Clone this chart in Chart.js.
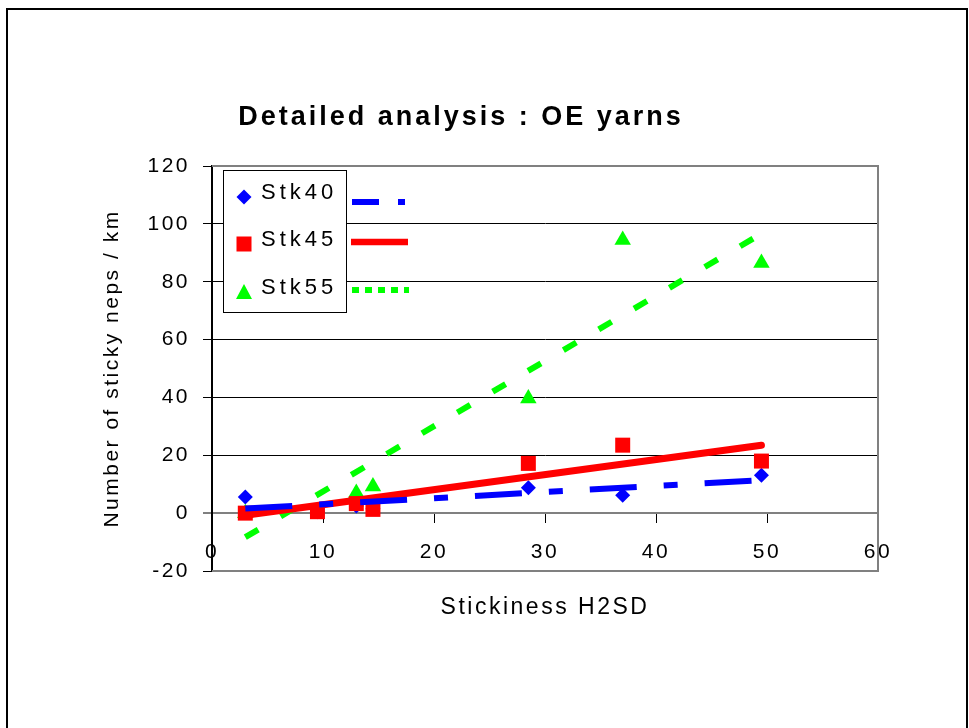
<!DOCTYPE html>
<html><head><meta charset="utf-8">
<script src="https://cdn.jsdelivr.net/npm/chart.js@4.4.1/dist/chart.umd.min.js"></script>
<style>
html,body{margin:0;padding:0;background:#fff;overflow:hidden;width:969px;height:728px;}
#frame{position:absolute;left:6px;top:8px;width:958px;height:800px;border:2px solid #000;}
canvas{position:absolute;left:0;top:0;}
</style></head><body>
<div id="frame"></div>
<canvas id="c" width="969" height="728"></canvas>
<script>
// ---- data ----
const titleText = 'Detailed analysis : OE yarns';
const xTitle = 'Stickiness H2SD';
const yTitle = 'Number of sticky neps / km';
const seriesNames = ['Stk40', 'Stk45', 'Stk55'];
const stickiness = [3, 9.5, 13, 14.5, 28.5, 37, 49.5];
const stk40 = [5.6, 0.5, 2.5, 1.5, 8.8, 6.2, 13.1];
const stk45 = [0, 0.5, 3.3, 1.3, 17.2, 23.5, 18];
const stk55 = [0, null, 7, 9.2, 39.6, 94.4, 86.5];
const trendX = [3, 49.5];
const trend40 = [1.6, 11.4];
const trend45 = [-0.7, 23.5];
const trend55 = [-8.3, 96.6];
const xRange = [0, 60, 10];
const yRange = [-20, 120, 20];

const BLUE = '#0000FF', RED = '#FF0000', GREEN = '#00FF00';
const FONT = '"Liberation Sans", Arial, sans-serif';

const pts = (xs, ys) => xs.map((x, i) => ({x: x, y: ys[i]})).filter(p => p.y !== null);

const SP = '2.5px';
const spacingPlugin = {
  id: 'spacing',
  beforeUpdate(chart) { chart.ctx.letterSpacing = SP; },
  beforeLayout(chart) { chart.ctx.letterSpacing = SP; },
  beforeDraw(chart) { chart.ctx.letterSpacing = SP; }
};

const decoPlugin = {
  id: 'deco',
  beforeDatasetsDraw(chart) {
    const {ctx, chartArea: a} = chart;
    ctx.save();
    ctx.strokeStyle = '#808080';
    ctx.lineWidth = 2;
    ctx.beginPath();
    ctx.moveTo(a.left, a.top); ctx.lineTo(a.right, a.top);
    ctx.lineTo(a.right, a.bottom); ctx.lineTo(a.left, a.bottom);
    ctx.stroke();
    ctx.restore();
  },
  afterDraw(chart) {
    const ctx = chart.ctx;
    ctx.save();
    // title
    ctx.letterSpacing = '3px';
    ctx.fillStyle = '#000';
    ctx.font = 'bold 27px ' + FONT;
    ctx.textAlign = 'center';
    ctx.textBaseline = 'middle';
    ctx.fillText(titleText, 461, 118);
    // legend box
    ctx.fillStyle = '#fff';
    ctx.fillRect(223, 170, 123, 142);
    ctx.strokeStyle = '#000';
    ctx.lineWidth = 1;
    ctx.strokeRect(223.5, 170.5, 123, 142);
    const rows = [193, 240, 288];
    const lineY = [202, 242, 290];
    ctx.font = '22px ' + FONT;
    ctx.letterSpacing = '4px';
    ctx.textAlign = 'left';
    ctx.fillStyle = '#000';
    seriesNames.forEach((n, i) => ctx.fillText(n, 261, rows[i]));
    // markers
    ctx.fillStyle = BLUE;
    ctx.beginPath();
    ctx.moveTo(244, 189.5); ctx.lineTo(251.5, 197); ctx.lineTo(244, 204.5); ctx.lineTo(236.5, 197); ctx.closePath(); ctx.fill();
    ctx.fillStyle = RED;
    ctx.fillRect(236.5, 236.5, 15, 15);
    ctx.fillStyle = GREEN;
    ctx.beginPath();
    ctx.moveTo(244, 284); ctx.lineTo(252, 299); ctx.lineTo(236, 299); ctx.closePath(); ctx.fill();
    // line samples
    ctx.lineWidth = 6;
    ctx.strokeStyle = BLUE; ctx.setLineDash([27, 19, 7, 19]);
    ctx.beginPath(); ctx.moveTo(352, lineY[0]); ctx.lineTo(406, lineY[0]); ctx.stroke();
    ctx.strokeStyle = RED; ctx.setLineDash([]); ctx.lineWidth = 6.5;
    ctx.beginPath(); ctx.moveTo(351, lineY[1]); ctx.lineTo(408, lineY[1]); ctx.stroke();
    ctx.strokeStyle = GREEN; ctx.setLineDash([7, 6]); ctx.lineWidth = 6;
    ctx.beginPath(); ctx.moveTo(352, lineY[2]); ctx.lineTo(409, lineY[2]); ctx.stroke();
    ctx.restore();
  }
};

Chart.defaults.color = '#000';
Chart.defaults.font.family = FONT;

new Chart(document.getElementById('c'), {
  type: 'scatter',
  data: {
    datasets: [
      {label: 'trend40', data: pts(trendX, trend40), showLine: true, borderColor: BLUE, borderWidth: 6,
       borderDash: [47, 27, 14, 27], pointRadius: 0, order: 1, fill: false},
      {label: 'trend45', data: pts(trendX, trend45), showLine: true, borderColor: RED, borderWidth: 7,
       borderCapStyle: 'round', pointRadius: 0, order: 2, fill: false},
      {label: 'trend55', data: pts(trendX, trend55), showLine: true, borderColor: GREEN, borderWidth: 6,
       borderDash: [15, 26], pointRadius: 0, order: 3, fill: false},
      {label: seriesNames[1], data: pts(stickiness, stk45), pointStyle: 'rect', pointRadius: 10.6,
       backgroundColor: RED, borderColor: RED, borderWidth: 0, order: 4},
      {label: seriesNames[2], data: pts(stickiness, stk55), pointStyle: 'triangle', pointRadius: 9.5,
       backgroundColor: GREEN, borderColor: GREEN, borderWidth: 0, order: 5},
      {label: seriesNames[0], data: pts(stickiness, stk40), pointStyle: 'rectRot', pointRadius: 7.5,
       backgroundColor: BLUE, borderColor: BLUE, borderWidth: 0, order: 6}
    ]
  },
  options: {
    responsive: false,
    devicePixelRatio: 1,
    animation: false,
    layout: {padding: {top: 166, left: 0, right: 91, bottom: 157}},
    plugins: {legend: {display: false}, tooltip: {enabled: false}, title: {display: false}},
    scales: {
      x: {
        type: 'linear',
        position: {y: 0},
        min: xRange[0], max: xRange[1],
        afterFit(s) { s.height = 157; },
        ticks: {stepSize: xRange[2], padding: 17, maxRotation: 0, font: {size: 21}, color: '#000'},
        grid: {drawOnChartArea: false, drawTicks: true, tickLength: 9, tickColor: '#000', tickWidth: 1},
        border: {color: '#808080', width: 2},
        title: {display: true, text: xTitle, font: {size: 23}, color: '#000', padding: {top: 0, bottom: 49}}
      },
      y: {
        type: 'linear',
        position: 'left',
        min: yRange[0], max: yRange[1],
        afterFit(s) { s.width = 212; },
        ticks: {stepSize: yRange[2], padding: 13, font: {size: 21}, color: '#000'},
        grid: {
          color: c => (c.tick && c.tick.value === 0) ? '#808080' : '#000',
          lineWidth: c => (c.tick && c.tick.value === 0) ? 2 : 1,
          tickLength: 9, tickColor: '#000', tickWidth: 1
        },
        border: {color: '#000', width: 2},
        title: {display: true, text: yTitle, font: {size: 21}, color: '#000', padding: {top: 100, bottom: 0}}
      }
    }
  },
  plugins: [spacingPlugin, decoPlugin]
});
</script>
</body></html>
